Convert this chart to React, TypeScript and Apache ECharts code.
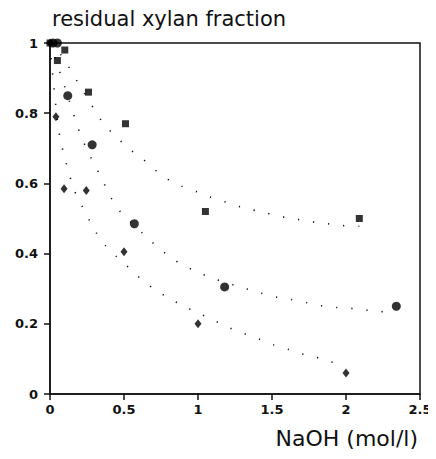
import React, { useEffect, useRef } from "react";
import * as echarts from "echarts";

const xTicks = [0, 0.5, 1, 1.5, 2, 2.5];
const yTicks = [0, 0.2, 0.4, 0.6, 0.8, 1];

const squarePoints: [number, number][] = [
  [0, 1], [0.05, 0.95], [0.1, 0.98], [0.26, 0.86], [0.51, 0.77], [1.05, 0.52], [2.09, 0.5],
];
const circlePoints: [number, number][] = [
  [0.02, 1], [0.05, 1], [0.12, 0.85], [0.285, 0.71], [0.57, 0.485], [1.18, 0.305], [2.34, 0.25],
];
const diamondPoints: [number, number][] = [
  [0, 1], [0.04, 0.79], [0.095, 0.585], [0.245, 0.58], [0.5, 0.405], [1.0, 0.2], [2.0, 0.06],
];

const topCurve: [number, number][] = [
  [0, 1], [0.08, 0.963], [0.135, 0.926], [0.19, 0.886], [0.25, 0.845], [0.31, 0.803], [0.37, 0.766],
  [0.45, 0.732], [0.53, 0.7], [0.62, 0.672], [0.7, 0.642], [0.79, 0.613], [0.89, 0.592], [1.0, 0.575],
  [1.1, 0.558], [1.21, 0.544], [1.31, 0.53], [1.43, 0.519], [1.53, 0.508], [1.64, 0.5], [1.75, 0.492],
  [1.86, 0.486], [1.97, 0.48], [2.09, 0.478],
];
const middleCurve: [number, number][] = [
  [0, 1], [0.08, 0.9], [0.15, 0.81], [0.18, 0.77], [0.216, 0.729], [0.26, 0.687], [0.31, 0.647],
  [0.36, 0.604], [0.41, 0.561], [0.47, 0.522], [0.63, 0.456], [0.71, 0.425], [0.8, 0.394], [0.89, 0.369],
  [0.99, 0.349], [1.09, 0.331], [1.3, 0.303], [1.41, 0.289], [1.52, 0.277], [1.63, 0.269], [1.74, 0.26],
  [1.84, 0.251], [1.95, 0.246], [2.07, 0.243], [2.18, 0.237], [2.28, 0.234], [2.33, 0.234],
];
const bottomCurve: [number, number][] = [
  [0, 1], [0.02, 0.9], [0.04, 0.82], [0.054, 0.765], [0.074, 0.718], [0.1, 0.672], [0.128, 0.63],
  [0.16, 0.584], [0.21, 0.541], [0.26, 0.5], [0.31, 0.461], [0.38, 0.42], [0.45, 0.391], [0.54, 0.357],
  [0.62, 0.326], [0.71, 0.297], [0.8, 0.274], [0.9, 0.251], [1.0, 0.231], [1.1, 0.211], [1.2, 0.191],
  [1.3, 0.174], [1.41, 0.157], [1.51, 0.14], [1.62, 0.126], [1.73, 0.111], [1.84, 0.1], [1.94, 0.086],
  [2.0, 0.08],
];

const titleText = "residual xylan fraction";
const xName = "NaOH (mol/l)";

export default function App() {
  const ref = useRef<HTMLDivElement>(null);
  useEffect(() => {
    if (!ref.current) return;
    const chart = echarts.init(ref.current, null, { renderer: "svg" });
    const curveStyle = {
      color: "#111",
      width: 1.6,
      type: [1.2, 14] as any,
    };
    const curve = (data: [number, number][]) => ({
      type: "line",
      data,
      smooth: 0.3,
      showSymbol: false,
      symbol: "none",
      lineStyle: curveStyle,
      z: 1,
    });
    const scatter = (data: [number, number][], symbol: string, size: any) => ({
      type: "scatter",
      data,
      symbol,
      symbolSize: size,
      itemStyle: { color: "#000" },
      z: 3,
    });
    chart.setOption({
      animation: false,
      backgroundColor: "#fff",
      grid: { left: 50, right: 16, top: 43, bottom: 65, show: true, borderColor: "#111", borderWidth: 1.5, backgroundColor: "transparent" },
      xAxis: {
        type: "value",
        min: 0,
        max: 2.5,
        interval: 0.5,
        axisLine: { show: true, lineStyle: { color: "#111", width: 1.5 } },
        axisTick: { show: true, length: 6, inside: false, lineStyle: { color: "#111", width: 1.5 } },
        splitLine: { show: false },
        axisLabel: {
          margin: 9,
          fontFamily: "DejaVu Sans",
          fontWeight: "bold",
          fontSize: 13,
          color: "#111",
          formatter: (v: number) => (xTicks.includes(v) ? String(v) : ""),
        },
      },
      yAxis: {
        type: "value",
        min: 0,
        max: 1,
        interval: 0.2,
        axisLine: { show: true, lineStyle: { color: "#111", width: 1.5 } },
        axisTick: { show: true, length: 6, inside: false, lineStyle: { color: "#111", width: 1.5 } },
        splitLine: { show: false },
        axisLabel: {
          margin: 12,
          fontFamily: "DejaVu Sans",
          fontWeight: "bold",
          fontSize: 13,
          color: "#111",
          formatter: (v: number) => {
            const t = yTicks.find((y) => Math.abs(y - v) < 1e-9);
            return t === undefined ? "" : String(Math.round(t * 10) / 10);
          },
        },
      },
      graphic: [
        {
          type: "text",
          left: 52,
          top: 8,
          style: { text: titleText, fontFamily: "DejaVu Sans", fontSize: 21, fill: "#111" },
        },
        {
          type: "text",
          right: 18,
          top: 427,
          style: { text: xName, fontFamily: "DejaVu Sans", fontSize: 22, fill: "#111" },
        },
      ],
      series: [
        curve(topCurve),
        curve(middleCurve),
        curve(bottomCurve),
        scatter(squarePoints, "rect", 7),
        scatter(circlePoints, "circle", 9),
        scatter(diamondPoints, "diamond", [7, 9]),
      ],
    });
    return () => chart.dispose();
  }, []);
  return <div ref={ref} style={{ width: 436, height: 459, margin: -8 }} />;
}
